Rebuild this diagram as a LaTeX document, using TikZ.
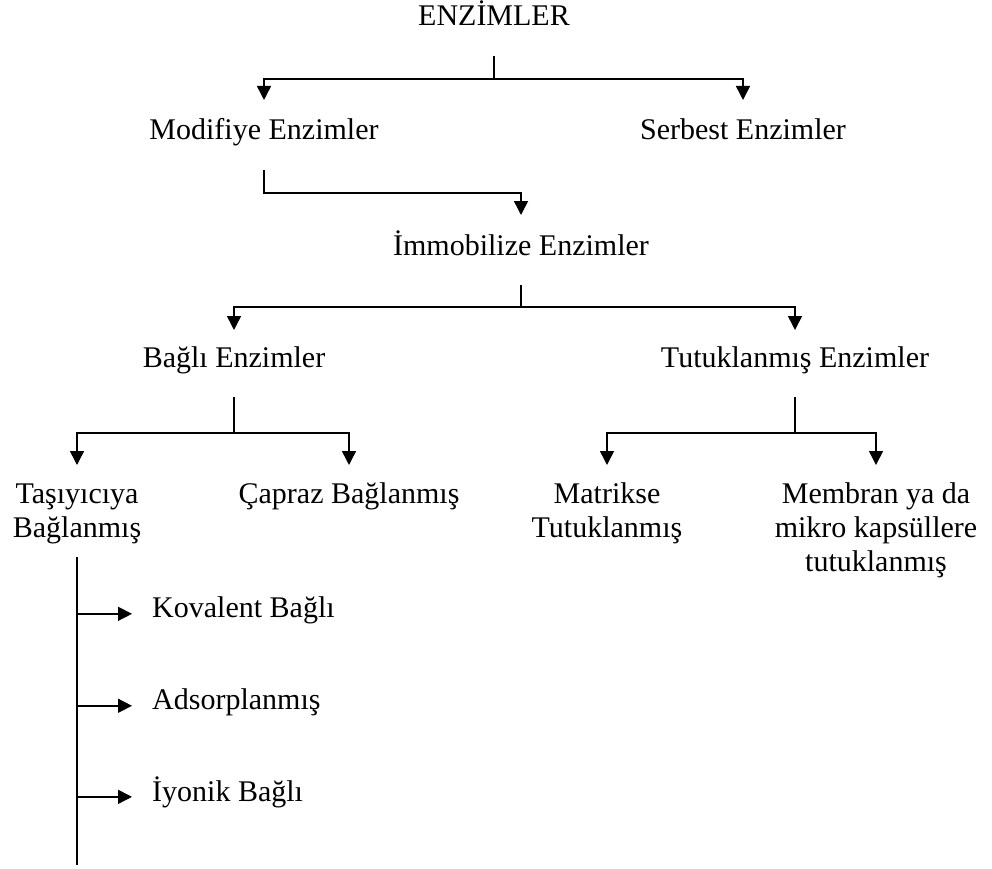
\documentclass[tikz,border=0pt]{standalone}
\usepackage{fontspec}
\setmainfont{Liberation Serif}
\usetikzlibrary{arrows.meta,calc}
\newcommand{\mls}[1]{\begin{tabular}[t]{@{}c@{}}#1\end{tabular}}
\begin{document}
\begin{tikzpicture}[x=1pt,y=-1pt,
  lbl/.style={anchor=base, inner sep=0pt, font=\fontsize{30}{34}\selectfont},
  lblw/.style={lbl, anchor=base west},
  conn/.style={line width=1.5pt, draw=black},
  arr/.style={conn, -{Triangle[length=14pt,width=14pt]}},
]
\useasboundingbox (0,0) rectangle (992,869);

% nodes
\node[lbl] (enz) at (494,26) {ENZİMLER};
\node[lbl] (mod) at (264,140) {Modifiye Enzimler};
\node[lbl] (ser) at (743,140) {Serbest Enzimler};
\node[lbl] (imm) at (521,255) {İmmobilize Enzimler};
\node[lbl] (bag) at (234,367) {Bağlı Enzimler};
\node[lbl] (tut) at (795,367) {Tutuklanmış Enzimler};
\node[lbl] (tas) at (77,503) {\mls{Taşıyıcıya\\Bağlanmış}};
\node[lbl] (cap) at (349,503) {Çapraz Bağlanmış};
\node[lbl] (mat) at (607,503) {\mls{Matrikse\\Tutuklanmış}};
\node[lbl] (mem) at (876,503) {\mls{Membran ya da\\mikro kapsüllere\\tutuklanmış}};
\node[lblw] (kov) at (152,617) {Kovalent Bağlı};
\node[lblw] (ads) at (152,709) {Adsorplanmış};
\node[lblw] (iyo) at (152,801) {İyonik Bağlı};
\coordinate (spineend) at (77,865);

% connectors
\draw[conn] ([yshift=-30pt]enz.base) -- ++(0,23) coordinate (j0);
\draw[arr] (j0) -| ([yshift=40pt]mod.base);
\draw[arr] (j0) -| ([yshift=40pt]ser.base);

\draw[arr] ([yshift=-30pt]mod.base) |- ([yshift=62pt]imm.base) -- ([yshift=40pt]imm.base);

\draw[conn] ([yshift=-30pt]imm.base) -- ++(0,22) coordinate (j1);
\draw[arr] (j1) -| ([yshift=37pt]bag.base);
\draw[arr] (j1) -| ([yshift=37pt]tut.base);

\draw[conn] ([yshift=-30pt]bag.base) -- ++(0,36) coordinate (j2);
\draw[arr] (j2) -| ([yshift=38pt]tas.base);
\draw[arr] (j2) -| ([yshift=38pt]cap.base);

\draw[conn] ([yshift=-30pt]tut.base) -- ++(0,36) coordinate (j3);
\draw[arr] (j3) -| ([yshift=38pt]mat.base);
\draw[arr] (j3) -| ([yshift=38pt]mem.base);

\draw[conn] ([yshift=-54pt]tas.base) -- (spineend);
\draw[arr] ([yshift=-4pt]tas.base |- kov.west) -- ([xshift=-20pt,yshift=-4pt]kov.west);
\draw[arr] ([yshift=-4pt]tas.base |- ads.west) -- ([xshift=-20pt,yshift=-4pt]ads.west);
\draw[arr] ([yshift=-5pt]tas.base |- iyo.west) -- ([xshift=-20pt,yshift=-5pt]iyo.west);
\end{tikzpicture}
\end{document}
